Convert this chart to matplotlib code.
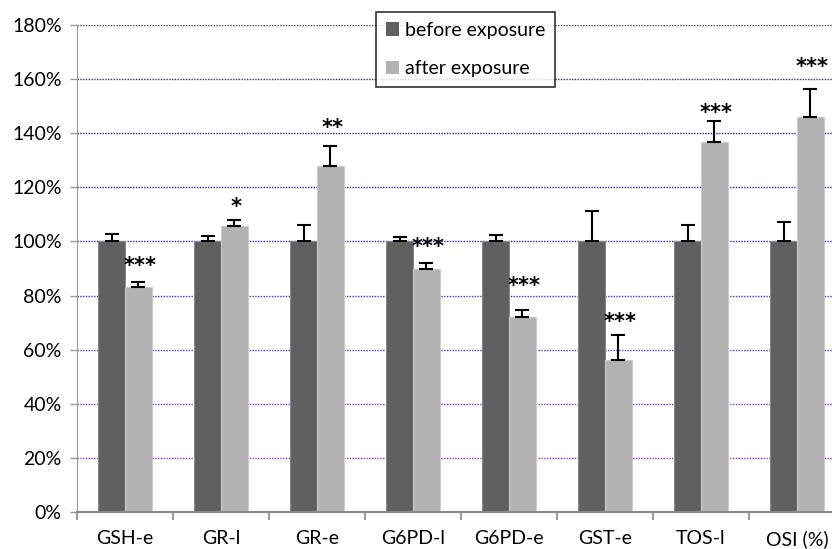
import matplotlib.pyplot as plt
from matplotlib.patches import Patch
import numpy as np

plt.rcParams['font.family'] = ['Lato', 'DejaVu Sans']

categories = ['GSH-e', 'GR-l', 'GR-e', 'G6PD-l', 'G6PD-e', 'GST-e', 'TOS-l', 'OSI (%)']
before = [100, 100, 100, 100, 100, 100, 100, 100]
before_err = [2.8, 2.1, 6.0, 1.6, 2.3, 11.3, 6.0, 7.2]
after = [83.3, 105.8, 127.9, 89.8, 72.0, 56.1, 136.8, 146.0]
after_err = [1.8, 2.1, 7.4, 2.2, 2.8, 9.3, 7.7, 10.4]
stars = ['***', '*', '**', '***', '***', '***', '***', '***']
star_gap = [16, 13, 18, 16, 24, 13, 8, 22]  # pixels above error cap

yticks = [0, 20, 40, 60, 80, 100, 120, 140, 160, 180]
grid_cols = {20: '#9a30d8', 40: '#7a38e0', 60: '#5838e0', 80: '#3838d8',
             100: '#2828c8', 120: '#2828b0', 140: '#282890', 160: '#303060', 180: '#404040'}

fig = plt.figure(figsize=(8.32, 5.49), dpi=100)
ax = fig.add_axes([77/832, 37/549, 768/832, 487/549])

x = np.arange(len(categories))
w = 0.28

for v in yticks[1:]:
    ax.axhline(v, color=grid_cols[v], linestyle=(0, (1, 1)), linewidth=1.0, zorder=0)

ax.bar(x - w/2, before, w, color='#606060', edgecolor='#8a8a8a', linewidth=0.8, zorder=2,
       yerr=[np.zeros(len(x)), before_err], error_kw=dict(ecolor='black', elinewidth=1.5, capsize=5, capthick=1.5))
ax.bar(x + w/2, after, w, color='#b2b2b2', edgecolor='#cccccc', linewidth=0.8, zorder=2,
       yerr=[np.zeros(len(x)), after_err], error_kw=dict(ecolor='black', elinewidth=1.5, capsize=5, capthick=1.5))

for i in range(len(x)):
    ax.annotate(stars[i], (x[i] + w/2 + 0.02, after[i] + after_err[i]), xytext=(0, star_gap[i] * 0.72),
                textcoords='offset points', ha='center', va='center', fontsize=15, fontweight='bold',
                family='DejaVu Sans')

ax.set_xlim(-0.5, len(x) - 0.5)
ax.set_ylim(0, 180)
ax.set_yticks(yticks)
ax.set_yticklabels([str(v) + '%' for v in yticks], fontsize=14)
ax.set_xticks(x)
ax.set_xticklabels(categories, fontsize=14)
ax.set_xticks(np.arange(len(x)) - 0.5, minor=True)
ax.tick_params(axis='x', which='major', length=0, pad=13)
ax.tick_params(axis='x', which='minor', length=6, width=1.2, color='#888888')
ax.tick_params(axis='y', length=5, width=1, color='#999999', pad=6)

for s in ['top', 'right']:
    ax.spines[s].set_visible(False)
ax.spines['left'].set_color('#999999')
ax.spines['left'].set_linestyle((0, (1, 1)))
ax.spines['bottom'].set_color('#888888')
ax.spines['bottom'].set_linewidth(1.5)

handles = [Patch(facecolor='#606060', label='before exposure'),
           Patch(facecolor='#b2b2b2', label='after exposure')]
leg = fig.legend(handles=handles, loc='upper left', bbox_to_anchor=(376/832, 1 - 12/549),
                 fontsize=14, frameon=True, fancybox=False, edgecolor='black',
                 handlelength=0.7, handleheight=0.7, handletextpad=0.3, labelspacing=1.1,
                 borderpad=0.5, borderaxespad=0)
leg.get_frame().set_linewidth(1.2)

plt.savefig('out.png', dpi=100)
